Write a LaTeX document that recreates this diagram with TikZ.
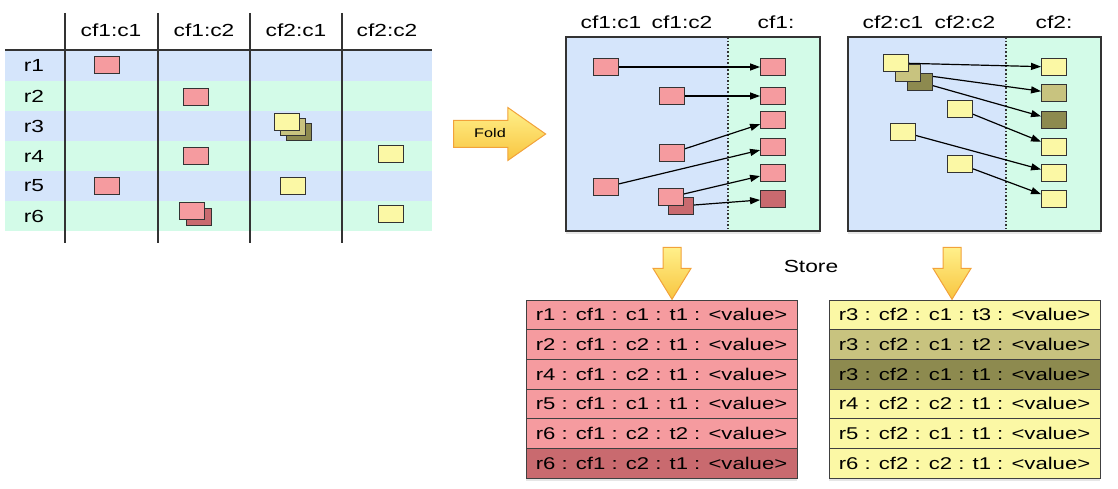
\documentclass[tikz,border=0pt]{standalone}
\usepackage{fontspec}
\setmainfont{Liberation Sans}[FakeStretch=1.3]
\usepackage{xcolor}
\usepackage{tikz}
\usetikzlibrary{shapes.arrows,arrows.meta,shadows}

\definecolor{rowblue}{HTML}{D5E5FB}
\definecolor{rowgreen}{HTML}{D3FBE8}
\definecolor{cellred}{HTML}{F59B9F}
\definecolor{celldarkred}{HTML}{C96A6F}
\definecolor{cellyel}{HTML}{FBF8A5}
\definecolor{cellolive}{HTML}{C8C37F}
\definecolor{celldarkolive}{HTML}{8D8A4F}
\definecolor{arrowtop}{HTML}{FFF08A}
\definecolor{arrowbot}{HTML}{F8C540}
\definecolor{arroworange}{HTML}{F2A23A}

\pgfdeclarelayer{bg}
\pgfdeclarelayer{links}
\pgfsetlayers{bg,links,main}

\begin{document}
\begin{tikzpicture}[x=1pt, y=-1pt,
  cell/.style={draw=black!80, line width=0.9pt, minimum width=25pt,
               minimum height=17pt, inner sep=0pt},
  redcell/.style={cell, fill=cellred},
  darkredcell/.style={cell, fill=celldarkred},
  yelcell/.style={cell, fill=cellyel},
  olivecell/.style={cell, fill=cellolive},
  darkolivecell/.style={cell, fill=celldarkolive},
  head/.style={font=\fontsize{17.5pt}{20pt}\selectfont},
  entry/.style={draw=black!75, line width=0.9pt, minimum width=271pt,
                minimum height=29.7pt, inner sep=0pt,
                font=\fontsize{17pt}{20pt}\selectfont},
  link/.style={line width=1.2pt, -{Triangle[length=10pt,width=7pt]}},
  bigarrow/.style={single arrow, draw=arroworange, line width=1pt,
                   top color=arrowtop, bottom color=arrowbot},
  panelline/.style={draw=black!80, line width=1.2pt}]

  \useasboundingbox (0,0) rectangle (1118,489);

  %% Table rows
  \fill[rowblue]  (5,50)  rectangle (432,81);
  \fill[rowgreen] (5,81)  rectangle (432,111);
  \fill[rowblue]  (5,111) rectangle (432,141);
  \fill[rowgreen] (5,141) rectangle (432,171);
  \fill[rowblue]  (5,171) rectangle (432,201);
  \fill[rowgreen] (5,201) rectangle (432,231);

  \draw[black!80, line width=1.3pt] (5,50) -- (432,50);
  \draw[black!80, line width=1.3pt] (65,13) -- (65,243);
  \draw[black!80, line width=1.3pt] (158,13) -- (158,243);
  \draw[black!80, line width=1.3pt] (250,13) -- (250,243);
  \draw[black!80, line width=1.3pt] (342,13) -- (342,243);

  %% Table header and row keys
  \node[head] (hc11) at (111,30) {cf1:c1};
  \node[head] (hc12) at (204,30) {cf1:c2};
  \node[head] (hc21) at (296,30) {cf2:c1};
  \node[head] (hc22) at (387,30) {cf2:c2};

  \node[head] (r1) at (34,65.5) {r1};
  \node[head] (r2) at (34,96)   {r2};
  \node[head] (r3) at (34,126)  {r3};
  \node[head] (r4) at (34,156)  {r4};
  \node[head] (r5) at (34,186)  {r5};
  \node[head] (r6) at (34,216)  {r6};

  %% Table cells
  \node[redcell] (t1) at (107,65) {};
  \node[redcell] (t2) at (196,97) {};
  \node[darkolivecell] (t3c) at (299,132) {};
  \node[olivecell]     (t3b) at (293,127) {};
  \node[yelcell]       (t3a) at (287,122) {};
  \node[redcell] (t4a) at (196,156) {};
  \node[yelcell] (t4b) at (391,154) {};
  \node[redcell] (t5a) at (107,186) {};
  \node[yelcell] (t5b) at (293,186) {};
  \node[darkredcell] (t6b) at (199,217) {};
  \node[redcell]     (t6a) at (192,211) {};
  \node[yelcell]     (t6c) at (391,214) {};

  %% Fold
  \node[bigarrow, minimum height=92pt, minimum width=52pt,
        single arrow head extend=13pt, single arrow tip angle=70,
        inner xsep=4pt, inner ysep=7pt, text height=10pt, text depth=2pt,
        font=\fontsize{12.5pt}{14pt}\selectfont] (fold) at (490,134) {Fold};

  %% Panel cf1
  \begin{pgfonlayer}{bg}
    \fill[rowblue, drop shadow={opacity=0.2, shadow xshift=0pt, shadow yshift=-3pt}]
      (566,37) rectangle (820,231);
    \fill[rowgreen] (728,37) rectangle (820,231);
    \draw[black!80, dotted, line width=1.6pt] (728,37) -- (728,231);
    \draw[panelline] (566,37) rectangle (820,231);
  \end{pgfonlayer}

  \node[head] (pc11) at (611,22) {cf1:c1};
  \node[head] (pc12) at (682,22) {cf1:c2};
  \node[head] (pc1)  at (776,22) {cf1:};

  \node[redcell] (a1) at (606,67) {};
  \node[redcell] (a2) at (672,96) {};
  \node[redcell] (a3) at (672,153) {};
  \node[redcell] (a4) at (606,187) {};
  \node[darkredcell] (a6) at (681,206) {};
  \node[redcell]     (a5) at (671,197) {};

  \node[redcell] (b1) at (773,67) {};
  \node[redcell] (b2) at (773,96) {};
  \node[redcell] (b3) at (773,120) {};
  \node[redcell] (b4) at (773,147) {};
  \node[redcell] (b5) at (773,173) {};
  \node[darkredcell] (b6) at (773,199) {};

  %% Panel cf2
  \begin{pgfonlayer}{bg}
    \fill[rowblue, drop shadow={opacity=0.2, shadow xshift=0pt, shadow yshift=-3pt}]
      (848,37) rectangle (1101,231);
    \fill[rowgreen] (1006,37) rectangle (1101,231);
    \draw[black!80, dotted, line width=1.6pt] (1006,37) -- (1006,231);
    \draw[panelline] (848,37) rectangle (1101,231);
  \end{pgfonlayer}

  \node[head] (pc21) at (893,22)  {cf2:c1};
  \node[head] (pc22) at (965,22)  {cf2:c2};
  \node[head] (pc2)  at (1054,22) {cf2:};

  \node[darkolivecell] (c3) at (920,82) {};
  \node[olivecell]     (c2) at (908,73) {};
  \node[yelcell]       (c1) at (896,63) {};
  \node[yelcell] (c4) at (960,109) {};
  \node[yelcell] (c5) at (903,132) {};
  \node[yelcell] (c6) at (960,164) {};

  \node[yelcell]       (d1) at (1054,67) {};
  \node[olivecell]     (d2) at (1054,93) {};
  \node[darkolivecell] (d3) at (1054,120) {};
  \node[yelcell]       (d4) at (1054,147) {};
  \node[yelcell]       (d5) at (1054,173) {};
  \node[yelcell]       (d6) at (1054,199) {};

  %% Links
  \begin{pgfonlayer}{links}
    \draw[link] (a1) -- (b1);
    \draw[link] (a2) -- (b2);
    \draw[link] (a3) -- (b3);
    \draw[link] (a4) -- (b4);
    \draw[link] (a5) -- (b5);
    \draw[link] (a6) -- (b6);
    \draw[link] (c1) -- (d1);
    \draw[link] (c2) -- (d2);
    \draw[link] (c3) -- (d3);
    \draw[link] (c4) -- (d4);
    \draw[link] (c5) -- (d5);
    \draw[link] (c6) -- (d6);
  \end{pgfonlayer}

  %% Store
  \node[bigarrow, shape border rotate=270, minimum height=52pt, minimum width=37pt,
        single arrow head extend=10pt, single arrow tip angle=63,
        inner sep=8.5pt] (store1) at (672,266) {};
  \node[bigarrow, shape border rotate=270, minimum height=52pt, minimum width=37pt,
        single arrow head extend=10pt, single arrow tip angle=63,
        inner sep=8.5pt] (store2) at (952,266) {};
  \node[head] (storetext) at (811,266) {Store};

  \begin{pgfonlayer}{bg}
    \fill[white, drop shadow={opacity=0.2, shadow xshift=0pt, shadow yshift=-3pt}]
      (526,300) rectangle (797,478);
    \fill[white, drop shadow={opacity=0.2, shadow xshift=0pt, shadow yshift=-3pt}]
      (829,300) rectangle (1100,478);
  \end{pgfonlayer}

  \node[entry, fill=cellred]     (l1) at (661.5,314.8) {r1 : cf1 : c1 : t1 : <value>};
  \node[entry, fill=cellred]     (l2) at (661.5,344.5) {r2 : cf1 : c2 : t1 : <value>};
  \node[entry, fill=cellred]     (l3) at (661.5,374.2) {r4 : cf1 : c2 : t1 : <value>};
  \node[entry, fill=cellred]     (l4) at (661.5,403.8) {r5 : cf1 : c1 : t1 : <value>};
  \node[entry, fill=cellred]     (l5) at (661.5,433.5) {r6 : cf1 : c2 : t2 : <value>};
  \node[entry, fill=celldarkred] (l6) at (661.5,463.2) {r6 : cf1 : c2 : t1 : <value>};

  \node[entry, fill=cellyel]       (m1) at (964.5,314.8) {r3 : cf2 : c1 : t3 : <value>};
  \node[entry, fill=cellolive]     (m2) at (964.5,344.5) {r3 : cf2 : c1 : t2 : <value>};
  \node[entry, fill=celldarkolive] (m3) at (964.5,374.2) {r3 : cf2 : c1 : t1 : <value>};
  \node[entry, fill=cellyel]       (m4) at (964.5,403.8) {r4 : cf2 : c2 : t1 : <value>};
  \node[entry, fill=cellyel]       (m5) at (964.5,433.5) {r5 : cf2 : c1 : t1 : <value>};
  \node[entry, fill=cellyel]       (m6) at (964.5,463.2) {r6 : cf2 : c2 : t1 : <value>};

\end{tikzpicture}
\end{document}
